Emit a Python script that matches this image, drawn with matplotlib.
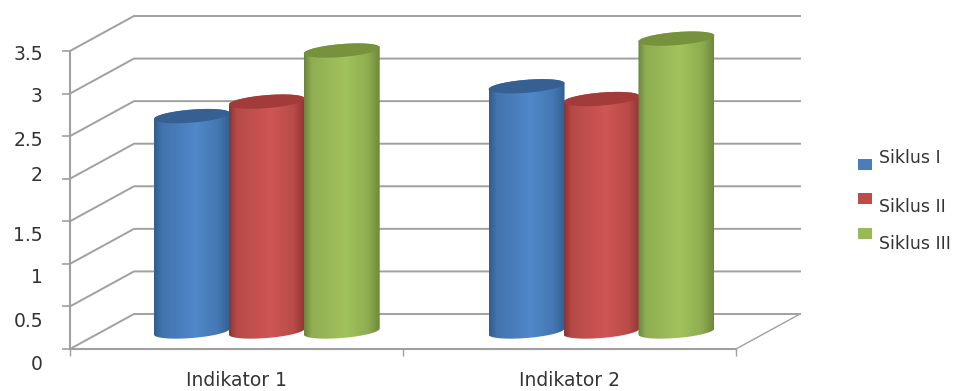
import numpy as np
import matplotlib
matplotlib.use("Agg")
import matplotlib.pyplot as plt
from matplotlib.colors import LinearSegmentedColormap
from matplotlib.patches import Polygon, Rectangle
from matplotlib.path import Path

categories = ["Indikator 1", "Indikator 2"]
series = ["Siklus I", "Siklus II", "Siklus III"]
siklus_1 = [2.53, 2.88]
siklus_2 = [2.70, 2.73]
siklus_3 = [3.30, 3.44]
y_ticks = [0, 0.5, 1, 1.5, 2, 2.5, 3, 3.5]
y_labels = ["0", "0.5", "1", "1.5", "2", "2.5", "3", "3.5"]

# shading across each cylinder: dark edge, bright middle, dark edge
stops = [0, 0.1, 0.55, 0.85, 1]
ramps = [
    ["#2f5d90", "#4273ad", "#5088ca", "#4477b2", "#33608f"],
    ["#8c3432", "#b64a48", "#cf5654", "#b84b49", "#8f3634"],
    ["#6a843a", "#8fae51", "#a1c35c", "#8dac50", "#6d883c"],
]
caps = ["#376092", "#a23b39", "#76923c"]
swatches = ["#4a7ebb", "#be4b48", "#98b954"]
grid_color = "#a0a0a0"
text_color = "#333333"

fig = plt.figure(figsize=(9.64, 3.91), dpi=100)
ax = fig.add_axes([70 / 964, 42 / 391, 666 / 964, 298 / 391])
ax.set_xlim(0, 2)
ax.set_ylim(0, 3.5)
ax.set_autoscale_on(False)

x_px = 2 / 666
y_px = 3.5 / 298
depth_x = 64 * x_px
depth_y = 35 * y_px

# back wall, side wall and floor
for v in y_ticks:
    ax.plot([0, depth_x, 2 + depth_x], [v, v + depth_y, v + depth_y],
            color=grid_color, lw=1.4, clip_on=False, zorder=1)
ax.plot([2, 2 + depth_x], [0, depth_y], color=grid_color, lw=1.0, clip_on=False, zorder=1)

for s in ["top", "right"]:
    ax.spines[s].set_visible(False)
for s in ["left", "bottom"]:
    ax.spines[s].set_color(grid_color)
    ax.spines[s].set_linewidth(1.5)

ax.set_yticks(y_ticks)
ax.set_yticklabels([])
ax.tick_params(axis="y", length=5.5, width=1.2, color=grid_color)
ax.set_xticks([0.5, 1.5])
ax.set_xticklabels(categories, fontsize=13.5, color=text_color)
ax.set_xticks([0, 1, 2], minor=True)
ax.tick_params(axis="x", which="major", length=0, pad=15.5)
ax.tick_params(axis="x", which="minor", length=5, width=1.0, color=grid_color)

# the value labels sit a little off their ticks
label_shift = [-15, -15, -14, -14, 3, -4, -3, -3]
for v, lab, shift in zip(y_ticks, y_labels, label_shift):
    ax.annotate(lab, (0, v), xycoords="data", xytext=(-19.5, shift * 0.72),
                textcoords="offset points", ha="right", va="center",
                fontsize=13.5, color=text_color, annotation_clip=False)


def cylinder(center, value, ramp, cap, z):
    half = 0.114
    b = 6.5 * y_px
    tilt = 3 * y_px
    x0 = center + depth_x / 2
    y0 = depth_y / 2
    t = np.linspace(0, np.pi, 60)
    # silhouette: upper arc of the top, then lower arc of the base
    top_x = x0 + half * np.cos(t)
    top_y = y0 + value + b * np.sin(t) + tilt * np.cos(t)
    low_x = x0 + half * np.cos(t + np.pi)
    low_y = y0 + b * np.sin(t + np.pi) + tilt * np.cos(t + np.pi)
    outline = np.column_stack([np.r_[top_x, low_x], np.r_[top_y, low_y]])

    cmap = LinearSegmentedColormap.from_list("shade", list(zip(stops, ramp)))
    im = ax.imshow(np.linspace(0, 1, 256)[None, :], cmap=cmap, aspect="auto",
                   extent=[x0 - half, x0 + half, y0 - b * 1.2, y0 + value + b * 1.2],
                   interpolation="bilinear", zorder=z)
    im.set_clip_box(fig.bbox)
    im.set_clip_path(Path(np.vstack([outline, outline[0]]), closed=True), ax.transData)

    tt = np.linspace(0, 2 * np.pi, 120)
    ax.add_patch(Polygon(np.column_stack([x0 + half * np.cos(tt),
                                          y0 + value + b * np.sin(tt) + tilt * np.cos(tt)]),
                         closed=True, facecolor=cap, edgecolor="none", clip_on=False, zorder=z + 0.1))


z = 3
for i, group in enumerate([0.495, 1.5]):
    for j, values in enumerate([siklus_1, siklus_2, siklus_3]):
        cylinder(group + (j - 1) * 0.225, values[i], ramps[j], caps[j], z)
        z += 1
ax.set_xlim(0, 2)
ax.set_ylim(0, 3.5)

# legend placed by hand on a full-figure overlay
overlay = fig.add_axes([0, 0, 1, 1], facecolor="none")
overlay.set_xlim(0, 964)
overlay.set_ylim(391, 0)
overlay.axis("off")
swatch_y = [159, 193, 228]
text_y = [158, 207, 244]
for name, col, sy, ty in zip(series, swatches, swatch_y, text_y):
    overlay.add_patch(Rectangle((858, sy), 14, 11, facecolor=col, edgecolor="none"))
    overlay.text(879, ty, name, fontsize=12.5, color=text_color, va="center", ha="left")

fig.savefig("out.png", dpi=100)
